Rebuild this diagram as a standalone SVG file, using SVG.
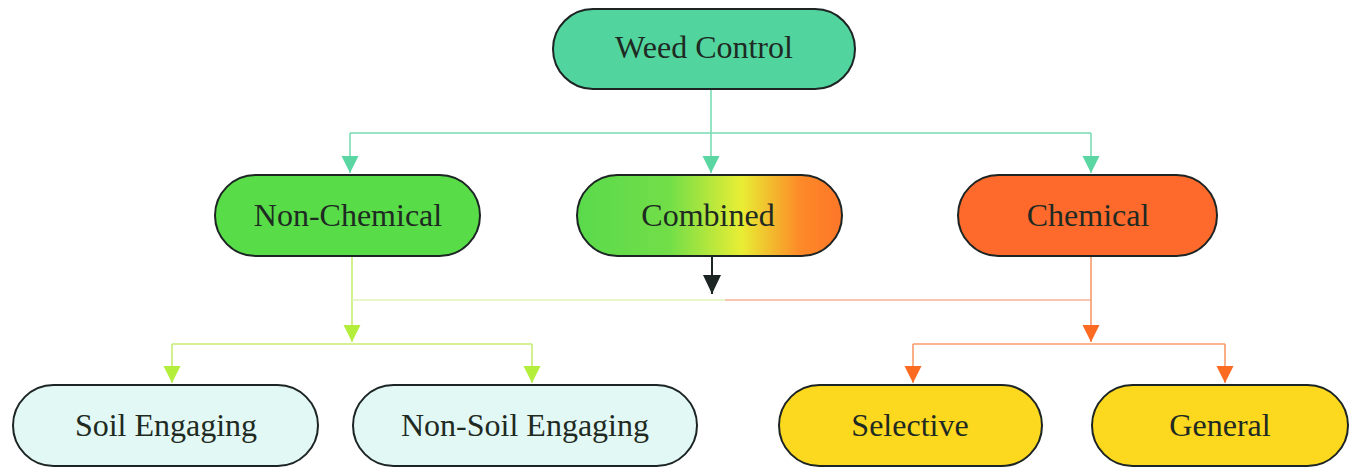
<svg xmlns="http://www.w3.org/2000/svg" width="1350" height="468" viewBox="0 0 1350 468">
<style>
.box{stroke:#1c2424;stroke-width:2}
.lbl{font-family:"Liberation Serif","Times New Roman",serif;font-size:32px;fill:#1e2a22;text-anchor:middle}
.cn{fill:none;stroke-width:1.6}
.teal{stroke:#7adcb4}
.lg{stroke:#c6ee70}
.lgf{stroke:#e2f2b8}
.or{stroke:#f89a6a}
.orf{stroke:#f4b49a}
.blk{stroke:#1c2424;stroke-width:2}
</style>
<defs>
<linearGradient id="gComb" x1="0" y1="0" x2="1" y2="0">
<stop offset="0" stop-color="#5ada4c"/>
<stop offset="0.35" stop-color="#72de48"/>
<stop offset="0.62" stop-color="#e8ee34"/>
<stop offset="0.84" stop-color="#fd8a28"/>
<stop offset="1" stop-color="#fd7628"/>
</linearGradient>
<marker id="aTeal" markerUnits="userSpaceOnUse" markerWidth="18" markerHeight="18" refX="17" refY="8.5" orient="auto"><path d="M0,0 L17,8.5 L0,17 Z" fill="#5ad6a2"/></marker>
<marker id="aGreen" markerUnits="userSpaceOnUse" markerWidth="18" markerHeight="18" refX="17" refY="8.5" orient="auto"><path d="M0,0 L17,8.5 L0,17 Z" fill="#b4ee3c"/></marker>
<marker id="aOrange" markerUnits="userSpaceOnUse" markerWidth="18" markerHeight="18" refX="17" refY="8.5" orient="auto"><path d="M0,0 L17,8.5 L0,17 Z" fill="#fd6a22"/></marker>
<marker id="aBlack" markerUnits="userSpaceOnUse" markerWidth="20" markerHeight="20" refX="19" refY="9" orient="auto"><path d="M0,0 L19,9 L0,18 Z" fill="#1c2424"/></marker>
</defs>
<rect width="1350" height="468" fill="#ffffff"/>

<g id="connectors">
<path class="cn teal" d="M711,89 V133 M350,133 H1091"/>
<path class="cn teal" d="M350,133 V173" marker-end="url(#aTeal)"/>
<path class="cn teal" d="M711,133 V173" marker-end="url(#aTeal)"/>
<path class="cn teal" d="M1091,133 V173" marker-end="url(#aTeal)"/>

<path class="cn lg" d="M352,256 V342" marker-end="url(#aGreen)"/>
<path class="cn lgf" d="M352,300 H725"/>
<path class="cn orf" d="M725,300 H1091"/>
<path class="cn or" d="M1091,256 V342" marker-end="url(#aOrange)"/>
<path class="cn blk" d="M712,256 V294" marker-end="url(#aBlack)"/>

<path class="cn lg" d="M172,344 H532"/>
<path class="cn lg" d="M172,344 V383" marker-end="url(#aGreen)"/>
<path class="cn lg" d="M532,344 V383" marker-end="url(#aGreen)"/>

<path class="cn or" d="M913,344 H1225"/>
<path class="cn or" d="M913,344 V383" marker-end="url(#aOrange)"/>
<path class="cn or" d="M1225,344 V383" marker-end="url(#aOrange)"/>
</g>

<g id="weed-control">
<rect class="box" x="553" y="9" width="302" height="80" rx="40" fill="#52d49e" stroke="#1e3a3a"/>
<text class="lbl" x="704" y="58">Weed Control</text>
</g>

<g id="non-chemical">
<rect class="box" x="215" y="175" width="265" height="81" rx="40.5" fill="#58dc48"/>
<text class="lbl" x="348" y="226">Non-Chemical</text>
</g>

<g id="combined">
<rect class="box" x="577" y="175" width="265" height="81" rx="40.5" fill="url(#gComb)"/>
<text class="lbl" x="708" y="226">Combined</text>
</g>

<g id="chemical">
<rect class="box" x="958" y="175" width="259" height="81" rx="40.5" fill="#fd6a2c"/>
<text class="lbl" x="1088" y="226">Chemical</text>
</g>

<g id="soil-engaging">
<rect class="box" x="13" y="385" width="305" height="81" rx="40.5" fill="#e2f8f4"/>
<text class="lbl" x="166" y="436">Soil Engaging</text>
</g>

<g id="non-soil-engaging">
<rect class="box" x="353" y="385" width="344" height="81" rx="40.5" fill="#e2f8f4"/>
<text class="lbl" x="525" y="436">Non-Soil Engaging</text>
</g>

<g id="selective">
<rect class="box" x="779" y="385" width="263" height="81" rx="40.5" fill="#fcd81e"/>
<text class="lbl" x="910" y="436">Selective</text>
</g>

<g id="general">
<rect class="box" x="1092" y="385" width="256" height="81" rx="40.5" fill="#fcd81e"/>
<text class="lbl" x="1220" y="436">General</text>
</g>
</svg>
